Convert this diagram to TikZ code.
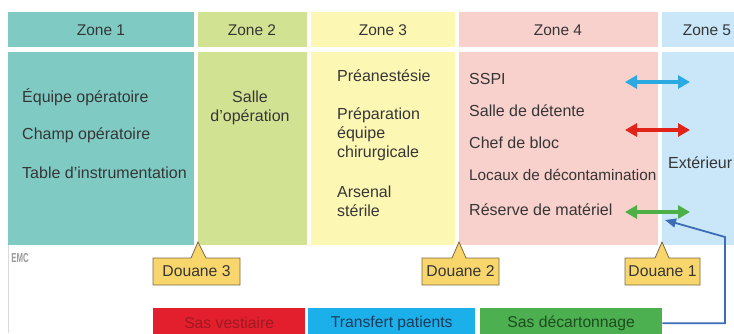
\documentclass[tikz,border=0pt]{standalone}
\usepackage{fontspec}
\setmainfont{Liberation Sans}
\usetikzlibrary{arrows.meta}
\definecolor{zA}{HTML}{7FCBC4}
\definecolor{zB}{HTML}{D2E293}
\definecolor{zC}{HTML}{FDF7B4}
\definecolor{zD}{HTML}{F8D0CC}
\definecolor{zE}{HTML}{C9E7F8}
\definecolor{txt}{HTML}{363636}
\definecolor{dou}{HTML}{F8D66B}
\definecolor{douline}{HTML}{7A6A45}
\definecolor{redA}{HTML}{E31E2D}
\definecolor{redT}{HTML}{9E1A22}
\definecolor{cyanA}{HTML}{1CB0EB}
\definecolor{cyanT}{HTML}{1D3B5C}
\definecolor{grnA}{HTML}{4CAF50}
\definecolor{grnT}{HTML}{1E4D20}
\definecolor{arrC}{HTML}{2BAAE2}
\definecolor{arrR}{HTML}{E2231A}
\definecolor{arrG}{HTML}{4DB047}
\definecolor{conn}{HTML}{3D6DB5}
\begin{document}
\begin{tikzpicture}[x=1pt,y=-1pt,
  every node/.style={font=\fontsize{15.7}{19}\selectfont, text=txt, inner sep=0pt},
  item/.style={anchor=west, font=\fontsize{16}{19}\selectfont},
  hdr/.style={anchor=center, font=\fontsize{15.5}{19}\selectfont},
  dbox/.style={fill=dou, draw=douline, line width=0.8pt, line join=miter},
  sas/.style={minimum height=30pt, anchor=north west},
  dblarrow/.style={line width=4pt, {Triangle[length=12pt,width=13pt]}-{Triangle[length=12pt,width=13pt]}},
]
\useasboundingbox (0,0) rectangle (734,333);
\clip (0,0) rectangle (734,333);
\fill[white] (0,0) rectangle (734,333);
% zones headers
\fill[zA] (8,12) rectangle (194,47);
\fill[zB] (198,12) rectangle (307,47);
\fill[zC] (311,12) rectangle (455,47);
\fill[zD] (459,12) rectangle (658,47);
\fill[zE] (662,12) rectangle (740,47);
% zone bodies
\fill[zA] (8,52) rectangle (194,245);
\fill[zB] (198,52) rectangle (307,245);
\fill[zC] (311,52) rectangle (455,245);
\fill[zD] (459,52) rectangle (658,245);
\fill[zE] (662,52) rectangle (740,245);
% left frame line
\draw[black!15, line width=0.6pt] (8,245) -- (8,333);
% headers
\node[hdr] (h1) at (101,30) {Zone 1};
\node[hdr] (h2) at (252,30) {Zone 2};
\node[hdr] (h3) at (383,30) {Zone 3};
\node[hdr] (h4) at (558,30) {Zone 4};
\node[hdr] (h5) at (707,30) {Zone 5};
% zone 1
\node[item] (a1) at (22,97) {Équipe opératoire};
\node[item] (a2) at (22,135) {Champ opératoire};
\node[item] (a3) at (22,173) {Table d’instrumentation};
% zone 2
\node[align=center, font=\fontsize{16}{19}\selectfont] (b1) at (250,108) {Salle\\d’opération};
% zone 3
\node[item] (c1) at (337,76) {Préanestésie};
\node[item, align=left] (c2) at (337,134) {Préparation\\équipe\\chirurgicale};
\node[item, align=left] (c3) at (337,201) {Arsenal\\stérile};
% zone 4
\node[item] (d1) at (469,79) {SSPI};
\node[item] (d2) at (469,111) {Salle de détente};
\node[item] (d3) at (469,143) {Chef de bloc};
\node[item, font=\fontsize{15.3}{19}\selectfont] (d4) at (469,175) {Locaux de décontamination};
\node[item] (d5) at (469,210) {Réserve de matériel};
% zone 5
\node[item] (e1) at (668,163) {Extérieur};
% double arrows
\coordinate (pL1) at (625,82); \coordinate (pR1) at (690,82);
\coordinate (pL2) at (625,130); \coordinate (pR2) at (690,130);
\coordinate (pL3) at (625,212); \coordinate (pR3) at (690,212);
\draw[dblarrow, arrC] (pL1) -- (pR1);
\draw[dblarrow, arrR] (pL2) -- (pR2);
\draw[dblarrow, arrG] (pL3) -- (pR3);
% logo
\node[text=black!40, font=\fontsize{13}{13}\selectfont\bfseries, xscale=0.6] (logo) at (20,258) {EMC};
% douanes
\draw[dbox] (153,258) -- (191,258) -- (198,242) -- (206,258) -- (240,258) -- (240,285) -- (153,285) -- cycle;
\node (dz3) at (196.5,271.5) {Douane 3};
\draw[dbox] (422,258) -- (452,258) -- (459,242) -- (466,258) -- (499,258) -- (499,285) -- (422,285) -- cycle;
\node (dz2) at (460.5,271.5) {Douane 2};
\draw[dbox] (625,258) -- (655,258) -- (662,242) -- (669,258) -- (700,258) -- (700,285) -- (625,285) -- cycle;
\node (dz1) at (662.5,271.5) {Douane 1};
% sas
\node[sas, fill=redA, text=redT, minimum width=152pt] (s1) at (153,308) {Sas vestiaire};
\node[sas, fill=cyanA, text=cyanT, minimum width=167pt] (s2) at (308,308) {Transfert patients};
\node[sas, fill=grnA, text=grnT, minimum width=182pt] (s3) at (480,308) {Sas décartonnage};
% connector
\coordinate (bend) at (725,237);
\coordinate (tip) at (665,220);
\draw[conn, line width=1.8pt, -{Triangle[length=11pt,width=9pt]}] (s3.east) -| (bend) -- (tip);
\end{tikzpicture}
\end{document}
